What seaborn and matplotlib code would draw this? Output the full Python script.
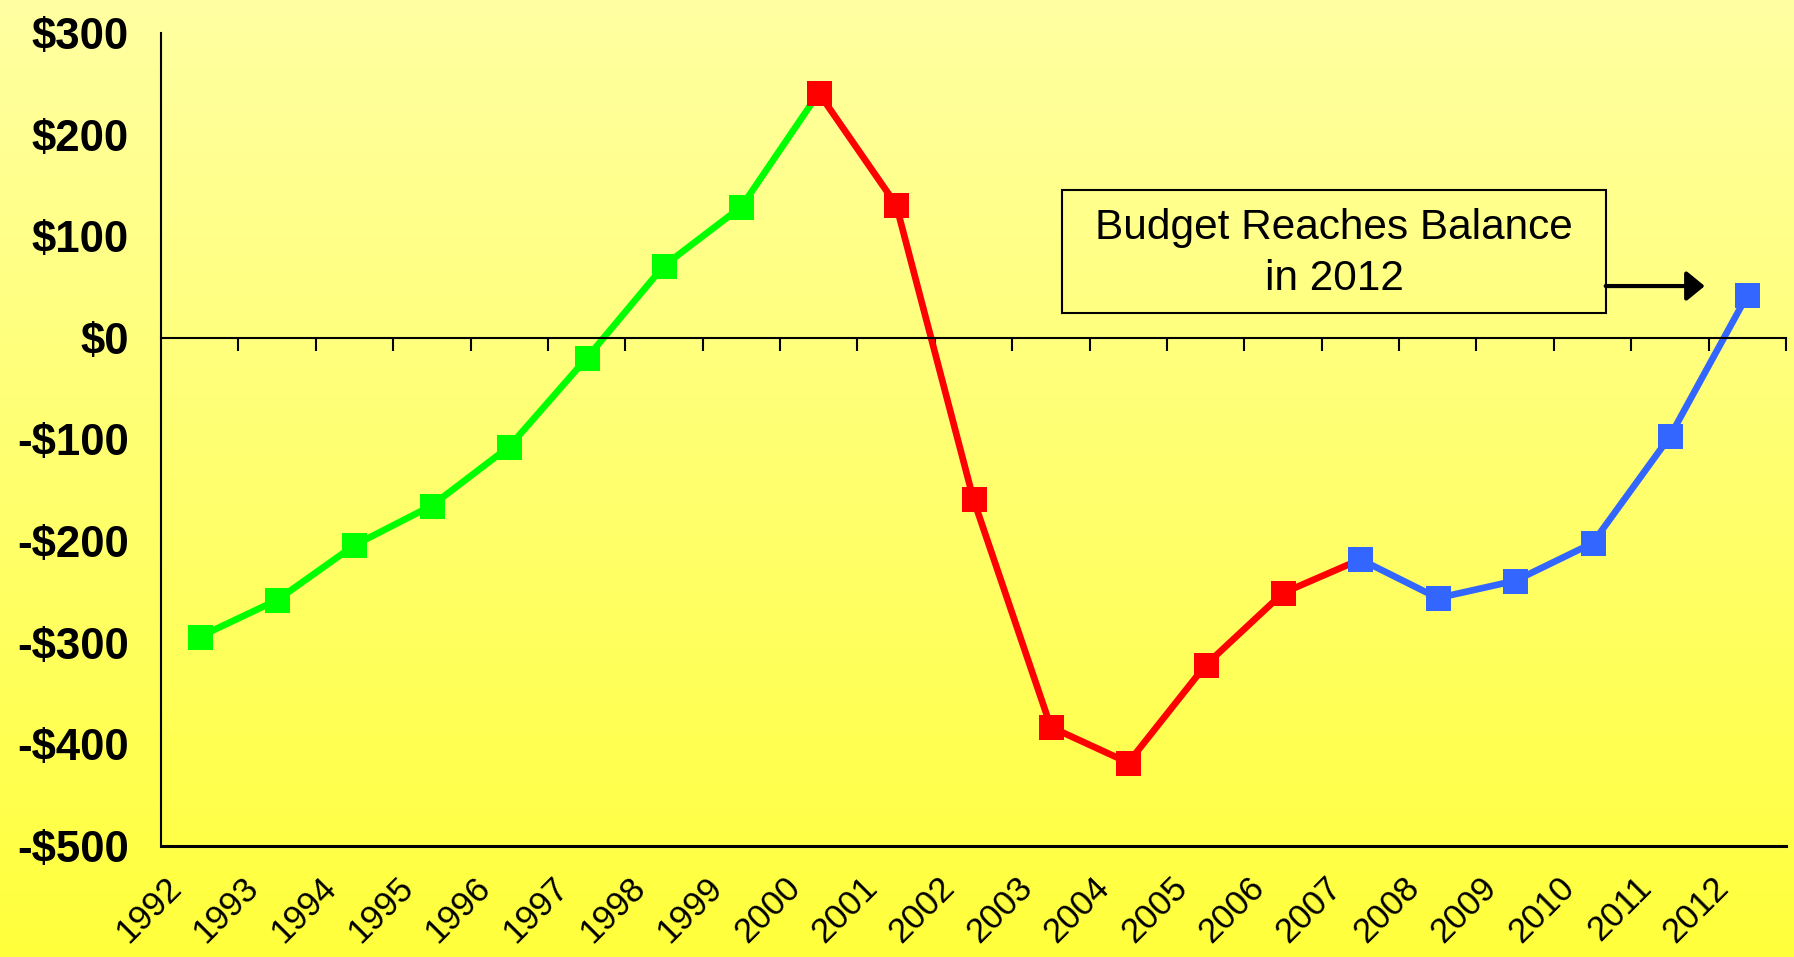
import numpy as np
import pandas as pd
import seaborn as sns
import matplotlib as mpl
mpl.use('Agg')
import matplotlib.pyplot as plt
from matplotlib.patches import Rectangle
from matplotlib.transforms import ScaledTranslation

# budget surplus / deficit, billions
years = list(range(1992, 2013))
deficit = [-294, -258, -204, -165, -107, -20, 71, 129, 241, 131, -159,
           -383, -418, -322, -251, -218, -256, -239, -202, -97, 42]
green_end = 2000
red_end = 2007
seg_colors = ['#00FF00', '#FF0000', '#3366FF']
yticks = [-500, -400, -300, -200, -100, 0, 100, 200, 300]
note = 'Budget Reaches Balance\nin 2012'

sns.set_theme(style='ticks')
plt.rcParams['font.family'] = ['Liberation Sans', 'DejaVu Sans']
plt.rcParams.update({'text.color': 'black', 'xtick.color': 'black',
                     'ytick.color': 'black', 'axes.edgecolor': 'black'})

df = pd.DataFrame({'year': years, 'deficit': deficit})
segs = [df[df.year <= green_end],
        df[(df.year >= green_end) & (df.year <= red_end)],
        df[df.year >= red_end]]

fig = plt.figure(figsize=(17.94, 9.57), dpi=100)

# yellow gradient background
bg = fig.add_axes([0, 0, 1, 1], zorder=-10)
top = np.array([255, 255, 162]) / 255
bot = np.array([255, 255, 60]) / 255
t = np.linspace(0, 1, 256)[:, None, None]
grad = top * (1 - t) + bot * t
bg.imshow(np.repeat(grad, 2, axis=1), aspect='auto', extent=[0, 1, 0, 1])
bg.axis('off')

ax = fig.add_axes([161 / 1794, 1 - 846 / 957, 1625 / 1794, (846 - 33) / 957])
ax.set_facecolor('none')

for seg, c in zip(segs, seg_colors):
    sns.lineplot(data=seg, x='year', y='deficit', ax=ax, color=c,
                 marker='s', markersize=18, markeredgecolor=c, markeredgewidth=0)
for ln in ax.lines:
    ln.set_linewidth(4.8)

ax.set_xlim(1991.5, 2012.5)
ax.set_ylim(-500, 300)
ax.set_xlabel('')
ax.set_ylabel('')

# zero line carries the category boundary ticks
for s in ['top', 'right']:
    ax.spines[s].set_visible(False)
ax.spines['bottom'].set_position(('data', 0))
ax.spines['bottom'].set_linewidth(1.5)
ax.spines['left'].set_linewidth(1.5)
ax.set_xticks(np.array(years) + 0.5)
ax.tick_params(axis='x', direction='out', length=9, width=1.5,
               color='black', labelbottom=False)

ax.set_yticks(yticks)
ax.set_yticklabels([('-$%d' % -v) if v < 0 else ('$%d' % v) for v in yticks],
                   fontsize=31.5, fontweight='bold')
ax.tick_params(axis='y', length=0, pad=23)

# year labels sit on the bottom line
sec = ax.secondary_xaxis(0)
sec.spines['bottom'].set_linewidth(2.2)
sec.set_xticks(years)
sec.set_xticklabels([str(y) for y in years], rotation=45, ha='right', fontsize=25)
sec.tick_params(axis='x', length=0, pad=18)
off = ScaledTranslation(-0.12, 0, fig.dpi_scale_trans)
for lbl in sec.get_xticklabels():
    lbl.set_transform(lbl.get_transform() + off)

# annotation box and arrow
ax.add_patch(Rectangle((2003.15, 24.6), 7.02, 121, fill=False, ec='black', lw=1.5))
ax.text(2006.66, 83, note, ha='center', va='center', fontsize=30.5,
        linespacing=1.35)
ax.annotate('', xy=(2011.45, 51), xytext=(2010.17, 51),
            arrowprops=dict(arrowstyle='-|>,head_length=0.55,head_width=0.45',
                            mutation_scale=20, lw=3, color='black',
                            shrinkA=0, shrinkB=0))

plt.savefig('out.png', dpi=100)
